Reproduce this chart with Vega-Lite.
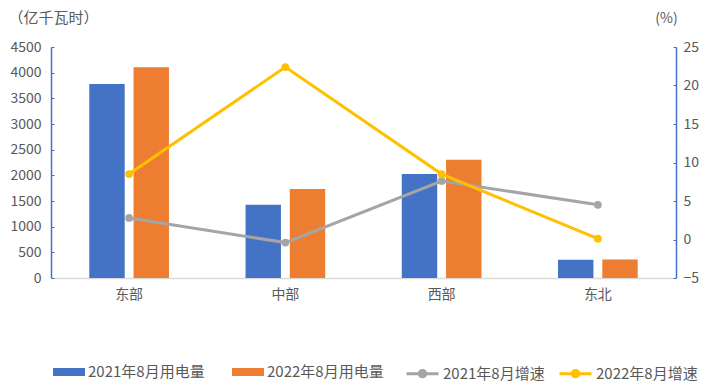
{
  "$schema": "https://vega.github.io/schema/vega-lite/v6.json",
  "width": 625,
  "height": 231,
  "autosize": {"type": "none"},
  "padding": {"left": 51, "top": 47, "right": 32, "bottom": 113},
  "config": {
    "view": {"stroke": null},
    "font": "Noto Sans CJK SC",
    "axis": {"labelFont": "Noto Sans CJK SC", "titleFont": "Noto Sans CJK SC", "labelColor": "#595959", "titleColor": "#595959", "labelFontSize": 14, "titleFontSize": 15, "titleFontWeight": "normal", "grid": false},
    "legend": {"labelFont": "Noto Sans CJK SC", "labelColor": "#595959", "labelFontSize": 15}
  },
  "datasets": {
    "bars": [
      {"region": "东部", "series": "2021年8月用电量", "value": 3780},
      {"region": "东部", "series": "2022年8月用电量", "value": 4105},
      {"region": "中部", "series": "2021年8月用电量", "value": 1425},
      {"region": "中部", "series": "2022年8月用电量", "value": 1735},
      {"region": "西部", "series": "2021年8月用电量", "value": 2027},
      {"region": "西部", "series": "2022年8月用电量", "value": 2305},
      {"region": "东北", "series": "2021年8月用电量", "value": 356},
      {"region": "东北", "series": "2022年8月用电量", "value": 358}
    ],
    "lines": [
      {"region": "东部", "series": "2021年8月增速", "rate": 2.8},
      {"region": "中部", "series": "2021年8月增速", "rate": -0.4},
      {"region": "西部", "series": "2021年8月增速", "rate": 7.6},
      {"region": "东北", "series": "2021年8月增速", "rate": 4.5},
      {"region": "东部", "series": "2022年8月增速", "rate": 8.5},
      {"region": "中部", "series": "2022年8月增速", "rate": 22.4},
      {"region": "西部", "series": "2022年8月增速", "rate": 8.5},
      {"region": "东北", "series": "2022年8月增速", "rate": 0.1}
    ]
  },
  "layer": [
    {
      "data": {"name": "bars"},
      "mark": {"type": "bar"},
      "encoding": {
        "x": {"field": "region", "type": "nominal", "scale": {"domain": ["东部", "中部", "西部", "东北"], "paddingInner": 0.49, "paddingOuter": 0.245},
          "axis": {"title": null, "labelAngle": 0, "ticks": false, "domainColor": "#d9d9d9", "domainWidth": 1.5, "labelPadding": 9}},
        "xOffset": {"field": "series", "type": "nominal", "scale": {"paddingInner": 0.2}},
        "y": {"field": "value", "type": "quantitative", "scale": {"domain": [0, 4500], "nice": false},
          "axis": {"title": "（亿千瓦时）", "format": "d", "titleAngle": 0, "titleAlign": "left", "titleX": -43, "titleY": -25, "titleBaseline": "alphabetic", "values": [0,500,1000,1500,2000,2500,3000,3500,4000,4500], "domainColor": "#4472c4", "domainWidth": 1.5, "tickColor": "#4472c4", "tickSize": -3, "labelPadding": 13}},
        "color": {"field": "series", "type": "nominal", "scale": {"domain": ["2021年8月用电量", "2022年8月用电量"], "range": ["#4472c4", "#ed7d31"]},
          "legend": {"title": null, "orient": "none", "direction": "horizontal", "legendX": 2, "legendY": 309, "symbolType": "M-1,-0.25H1V0.25H-1Z", "symbolSize": 1024, "symbolStrokeWidth": 0, "columnPadding": 27, "labelOffset": 3}}
      }
    },
    {
      "data": {"name": "lines"},
      "encoding": {
        "x": {"field": "region", "type": "nominal"},
        "y": {"field": "rate", "type": "quantitative", "scale": {"domain": [-5, 25], "nice": false},
          "axis": {"orient": "right", "title": "(%)", "titleAngle": 0, "titleAlign": "center", "titleX": -10, "titleY": -25, "titleBaseline": "alphabetic", "titleFontSize": 14, "values": [-5,0,5,10,15,20,25], "domainColor": "#4472c4", "domainWidth": 1.5, "tickColor": "#4472c4", "tickSize": -3, "labelPadding": 10}}
      },
      "layer": [
        {
          "mark": {"type": "line", "strokeWidth": 3},
          "encoding": {
            "stroke": {"field": "series", "type": "nominal", "scale": {"domain": ["2021年8月增速", "2022年8月增速"], "range": ["#a5a5a5", "#ffc000"]},
              "legend": {"title": null, "orient": "none", "direction": "horizontal", "legendX": 354, "legendY": 309, "symbolType": "M-1,0H1M0.2,0A0.2,0.2,0,1,1,-0.2,0A0.2,0.2,0,1,1,0.2,0Z", "symbolSize": 1024, "symbolStrokeWidth": 3, "columnPadding": 8, "labelOffset": 3,
                "encode": {"symbols": {"update": {"fill": {"scale": "stroke", "field": "value"}}}}}}
          }
        },
        {
          "mark": {"type": "point", "filled": true, "size": 60, "opacity": 1},
          "encoding": {
            "fill": {"field": "series", "type": "nominal", "scale": {"domain": ["2021年8月增速", "2022年8月增速"], "range": ["#a5a5a5", "#ffc000"]}, "legend": null}
          }
        }
      ]
    }
  ],
  "resolve": {"scale": {"y": "independent"}}
}
